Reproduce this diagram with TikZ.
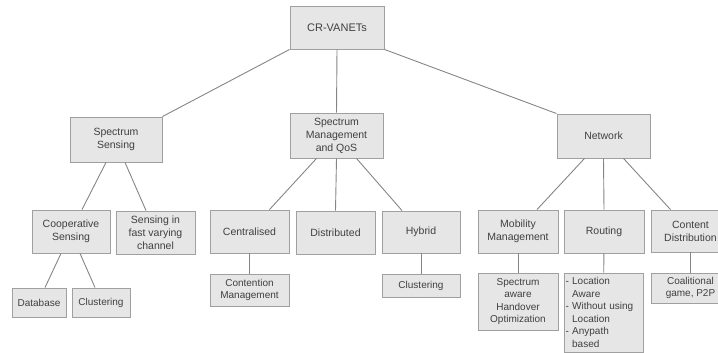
\documentclass[tikz,border=0pt]{standalone}
\usepackage{fontspec}
\setmainfont{Liberation Sans}
\usetikzlibrary{positioning}
\definecolor{boxfill}{HTML}{E6E6E6}
\definecolor{boxline}{HTML}{A0A0A0}
\definecolor{txt}{HTML}{404040}
\definecolor{wire}{HTML}{858585}
\tikzset{
  box/.style={draw=boxline, fill=boxfill, text=txt, align=center, inner sep=1pt, line width=0.9pt, font=\fontsize{10.5}{13}\selectfont},
  smallbox/.style={box, font=\fontsize{10}{12.6}\selectfont},
  link/.style={draw=wire, line width=0.9pt}
}
\begin{document}
\begin{tikzpicture}[x=1pt, y=-1pt]
  \clip (0,0) rectangle (718,353);
  % top
  \node[box, minimum width=94pt, minimum height=43pt, font=\fontsize{11}{13}\selectfont] (root) at (337,27.5) {CR-VANETs};
  % second row
  \node[box, minimum width=92pt, minimum height=45pt] (sens) at (116,139.5) {Spectrum\\Sensing};
  \node[box, minimum width=93pt, minimum height=45pt] (mgmt) at (336.5,135.5) {Spectrum\\Management\\and QoS};
  \node[box, minimum width=93pt, minimum height=44pt] (net) at (603.5,136) {Network};
  % third row
  \node[box, minimum width=78pt, minimum height=43pt] (coop) at (71,231.5) {Cooperative\\Sensing};
  \node[box, minimum width=79pt, minimum height=43pt] (fast) at (155.5,232.5) {Sensing in\\fast varying\\channel};
  \node[box, minimum width=79pt, minimum height=43pt] (central) at (249.5,231.5) {Centralised};
  \node[box, minimum width=79pt, minimum height=43pt] (distr) at (335.5,232.5) {Distributed};
  \node[box, minimum width=78pt, minimum height=42pt] (hybrid) at (421,232) {Hybrid};
  \node[box, minimum width=80pt, minimum height=43pt] (mobil) at (518,231.5) {Mobility\\Management};
  \node[box, minimum width=80pt, minimum height=43pt] (route) at (604,231.5) {Routing};
  \node[box, minimum width=79pt, minimum height=42pt] (content) at (690.5,231) {Content\\Distribution};
  % fourth row
  \node[smallbox, minimum width=54pt, minimum height=29pt] (dbase) at (39,302.5) {Database};
  \node[smallbox, minimum width=58pt, minimum height=29pt] (clust) at (101,302.5) {Clustering};
  \node[smallbox, minimum width=79pt, minimum height=32pt] (contend) at (249.5,290) {Contention\\Management};
  \node[smallbox, minimum width=78pt, minimum height=23pt] (hclust) at (421,285.5) {Clustering};
  \node[smallbox, minimum width=80pt, minimum height=57pt] (handover) at (518,301.5) {Spectrum\\aware\\Handover\\Optimization};
  \node[smallbox, minimum width=79pt, minimum height=79pt, text width=76pt, align=left] (rlist) at (603.5,312.5) {- Location\\\phantom{- }Aware\\- Without using\\\phantom{- }Location\\- Anypath\\\phantom{- }based};
  \node[smallbox, minimum width=79pt, minimum height=30pt] (coal) at (690.5,288) {Coalitional\\game, P2P};
  % links from the top
  \draw[link] (root.south west) -- (sens.north east);
  \draw[link] (root.south) -- (mgmt.north);
  \draw[link] (root.south east) -- (net.north west);
  % spectrum sensing
  \draw[link] ([xshift=-10pt]sens.south) -- ([xshift=11pt]coop.north);
  \draw[link] ([xshift=9pt]sens.south) -- ([xshift=-9.5pt]fast.north);
  \draw[link] ([xshift=-10pt]coop.south) -- ([xshift=6pt]dbase.north);
  \draw[link] ([xshift=9pt]coop.south) -- ([xshift=-6pt]clust.north);
  % spectrum management
  \draw[link] ([xshift=-20pt]mgmt.south) -- ([xshift=20pt]central.north);
  \draw[link] (mgmt.south) -- (distr.north);
  \draw[link] ([xshift=20pt]mgmt.south) -- ([xshift=-19pt]hybrid.north);
  \draw[link] (central) -- (contend);
  \draw[link] (hybrid) -- (hclust);
  % network
  \draw[link] ([xshift=-19pt]net.south) -- ([xshift=19pt]mobil.north);
  \draw[link] (net.south) -- (route.north);
  \draw[link] ([xshift=20pt]net.south) -- ([xshift=-20pt]content.north);
  \draw[link] (mobil) -- (handover);
  \draw[link] (route) -- (rlist);
  \draw[link] (content) -- (coal);
\end{tikzpicture}
\end{document}
